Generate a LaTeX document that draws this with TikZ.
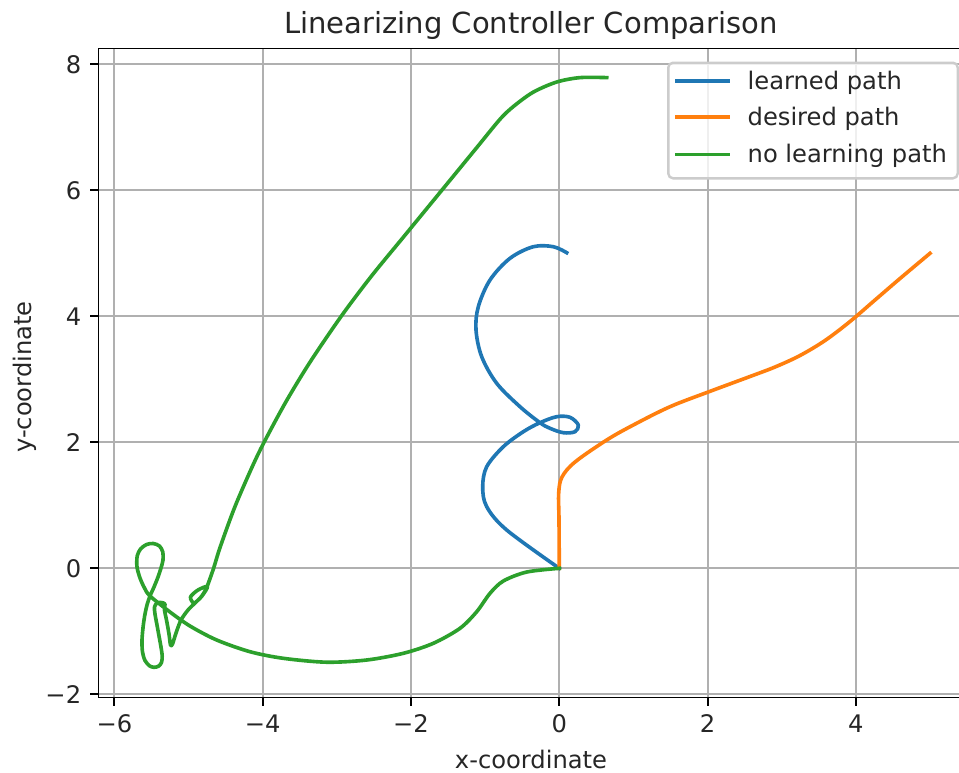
\documentclass[tikz,border=0pt]{standalone}
\usepackage{fontspec}
\setmainfont{DejaVu Sans}
\definecolor{tabblue}{HTML}{1F77B4}
\definecolor{taborange}{HTML}{FF7F0E}
\definecolor{tabgreen}{HTML}{2CA02C}
\definecolor{gridgray}{HTML}{B0B0B0}
\definecolor{legedge}{HTML}{CCCCCC}
\tikzset{
  gridline/.style={draw=gridgray, line width=1.1pt},
  spine/.style={draw=black, line width=1.1pt, line cap=rect},
  tickmark/.style={draw=black, line width=1.1pt},
  curve/.style={line width=2.06pt, line cap=rect, line join=round},
  lbl/.style={font=\fontsize{13.77pt}{16pt}\selectfont, inner sep=0pt, text=black!85},
  ttl/.style={font=\fontsize{16.53pt}{19pt}\selectfont, inner sep=0pt, text=black!85},
  legbox/.style={draw=legedge, fill=white, fill opacity=0.8, line width=1.37pt, rounded corners=2.7pt},
}
\begin{document}
\begin{tikzpicture}[x=0.02cm, y=-0.02cm]
\useasboundingbox (0,0) rectangle (959,772);
\fill[white] (0,0) rectangle (959,772);
% grid
\foreach \gx in {114.4,262.7,411,559.3,707.6,855.9}
  \draw[gridline] (\gx,48.5) -- (\gx,697.5);
\foreach \gy in {64.3,190.3,316.3,442.3,568.3,694.3}
  \draw[gridline] (98.5,\gy) -- (959,\gy);
% curves
\begin{scope}
\clip (98.5,48.5) rectangle (959,697.5);
\draw[curve, tabblue] plot[smooth, tension=0.55] coordinates {
(559.3,568.3) (506.7,530) (486.7,506.7) (482.7,486.7) (486.7,466.7)
(503.3,446.7) (523.3,431.7) (540,422.7) (556.7,416.7) (570,417.3)
(578.3,425) (575,431.7) (563.3,432.7) (550,428.3) (540,422.7)
(520,406.7) (496.7,383.3) (481.7,356.7) (476,330) (478.3,306.7)
(490,280) (510,258.3) (533.3,246.7) (553.3,246.7) (566.7,252.7)};
\draw[curve, taborange] plot[smooth, tension=0.55] coordinates {
(559.3,568.3) (559,520) (558.7,493) (562,477) (575,462) (606.7,440)
(633.3,425) (670,406.7) (709,391.7) (750,376.5) (775,367) (800,355.5)
(825,340.5) (850,321.5) (875,300) (900,278.5) (930,253.3)};
\draw[curve, tabgreen] plot[smooth, tension=0.5] coordinates {
(559.3,568.3) (526.7,572) (503.3,581) (490,593.3) (476.7,611.7)
(460,628.3) (433.3,643.3) (403.3,653.3) (366.7,660) (326.7,662.2)
(283.3,658.3) (250,651.7) (216.7,640) (190,626) (170,612)
(150,596) (144.5,588) (140,578) (137,567) (137.2,556)
(140.5,549) (146.5,544.5) (153.3,543.5) (159.5,546) (162.8,552) (163,560)
(161,568) (158,577) (154,587) (150,596) (147,605) (145,614) (143.2,626)
(142,640) (142.5,652) (145,660.5) (149.5,665.8) (154,667.3) (158.5,666.2)
(161.5,662.5) (162.2,656) (161,647) (159,636) (157,625) (155,614)
(154.5,607) (157,603) (161,602.5) (165,604) (164.5,610) (166.5,620)
(169,634) (170.5,645) (172.5,644) (176,633) (181,620) (188,610)
(195,603) (202,596) (207.5,586.5) (198,590) (190.5,597) (194,603)
(201,597) (206,589) (209.5,580) (214,567) (220.2,547) (234.8,507)
(252.1,467) (264.2,442) (285.8,402) (310.1,362) (341.4,316) (371.5,276)
(404.3,236) (442,190) (476.4,148) (500.2,119) (514,106) (533.3,92.1)
(556.7,82) (580,77.6) (606.7,77.6)};
\end{scope}
% spines
\draw[spine] (98.5,697.5) -- (98.5,48.5);
\draw[spine] (98.5,48.5) -- (959,48.5);
\draw[spine] (98.5,697.5) -- (959,697.5);
% x ticks
\foreach \gx/\lab [count=\i] in {114.4/−6,262.7/−4,411/−2,559.3/0,707.6/2,855.9/4} {
  \draw[tickmark] (\gx,697.5) -- (\gx,706);
  \node[lbl, anchor=north] (xt\i) at (\gx,714.5) {\lab};
}
% y ticks
\foreach \gy/\lab [count=\i] in {64.3/8,190.3/6,316.3/4,442.3/2,568.3/0,694.3/−2} {
  \draw[tickmark] (98.5,\gy) -- (90,\gy);
  \node[lbl, anchor=east] (yt\i) at (81.5,\gy) {\lab};
}
% labels
\node[ttl, anchor=base] (title) at (531,33) {Linearizing Controller Comparison};
\node[lbl, anchor=base] (xlabel) at (531,768) {x-coordinate};
\node[lbl, rotate=90, anchor=center] (ylabel) at (25,377) {y-coordinate};
% legend
\draw[legbox] (668.3,62.7) rectangle (957.7,178.3);
\draw[curve, tabblue] (676.7,80.7) -- (728.3,80.7);
\draw[curve, taborange] (676.7,117.3) -- (728.3,117.3);
\draw[curve, tabgreen] (676.7,154.3) -- (728.3,154.3);
\node[lbl, anchor=base west] (leg1) at (747.3,89.3) {learned path};
\node[lbl, anchor=base west] (leg2) at (747.3,125.9) {desired path};
\node[lbl, anchor=base west] (leg3) at (747.3,162.9) {no learning path};
\end{tikzpicture}
\end{document}
